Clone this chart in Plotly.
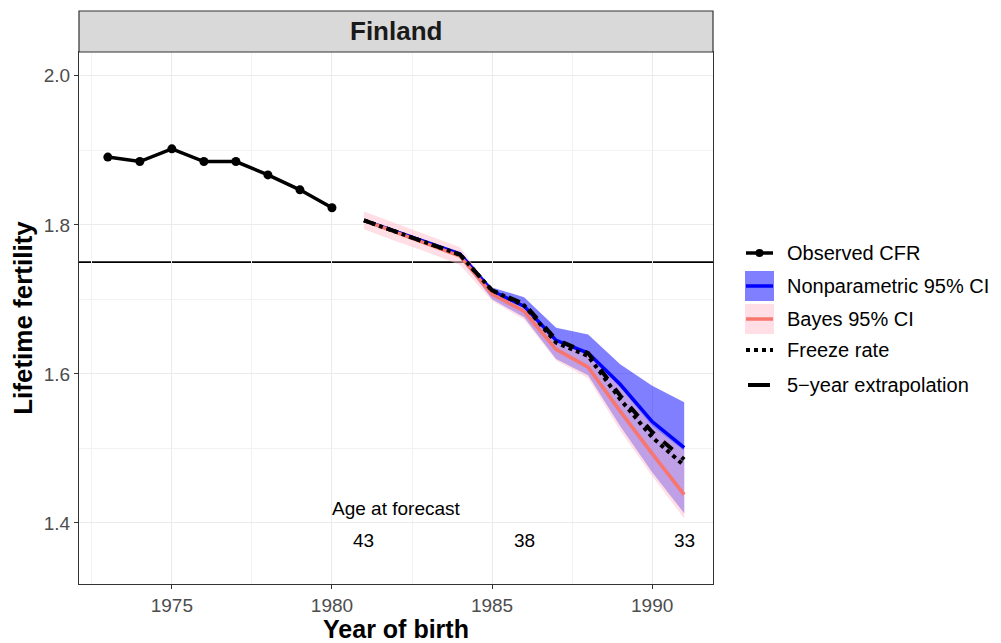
import plotly.graph_objects as go

# ---------------- data ----------------
obs_years = [1973, 1974, 1975, 1976, 1977, 1978, 1979, 1980]
obs_cfr = [1.891, 1.885, 1.902, 1.885, 1.885, 1.867, 1.847, 1.823]

fc_years = [1981, 1982, 1983, 1984, 1985, 1986, 1987, 1988, 1989, 1990, 1991]
np_mid = [1.806, 1.791, 1.776, 1.761, 1.711, 1.691, 1.645, 1.628, 1.586, 1.536, 1.501]
np_upper = [1.808, 1.793, 1.778, 1.764, 1.716, 1.703, 1.662, 1.653, 1.613, 1.584, 1.562]
np_lower = [1.804, 1.789, 1.774, 1.757, 1.700, 1.676, 1.620, 1.598, 1.530, 1.468, 1.413]
bayes_mid = [1.806, 1.790, 1.775, 1.758, 1.707, 1.684, 1.633, 1.609, 1.550, 1.493, 1.438]
bayes_upper = [1.818, 1.802, 1.787, 1.770, 1.712, 1.694, 1.645, 1.626, 1.582, 1.530, 1.497]
bayes_lower = [1.794, 1.778, 1.763, 1.746, 1.698, 1.673, 1.618, 1.594, 1.524, 1.463, 1.406]
freeze = [1.806, 1.791, 1.776, 1.760, 1.712, 1.692, 1.642, 1.624, 1.566, 1.515, 1.477]
extrap5 = [1.806, 1.791, 1.776, 1.760, 1.712, 1.694, 1.646, 1.628, 1.571, 1.522, 1.485]

ref_level = 1.75
age_years = [1981, 1986, 1991]
age_labels = ["43", "38", "33"]
age_label_y = 1.377
age_title = "Age at forecast"
age_title_x = 1982
age_title_y = 1.419

x_ticks = [1975, 1980, 1985, 1990]
y_ticks = [1.4, 1.6, 1.8, 2.0]
y_tick_text = ["1.4", "1.6", "1.8", "2.0"]

legend_labels = ["Observed CFR", "Nonparametric 95% CI", "Bayes 95% CI",
                 "Freeze rate", "5\u2212year extrapolation"]

# ---------------- style / layout ----------------
OFF = 8                      # page body margin of the browser
W, H = 1001 - OFF, 643 - OFF
P_L, P_R, P_T, P_B = 79, 713, 52, 584          # panel edges in page pixels
L, R, T, B = P_L - OFF, W - (P_R - OFF), P_T - OFF, H - (P_B - OFF)
FONT = "Liberation Sans, Arial, sans-serif"
BLUE_FILL = "rgba(0,0,255,0.5)"
PINK_FILL = "rgba(255,192,203,0.5)"
BLUE = "#0000ff"
SALMON = "#f8766d"


def px2x(px):
    return (px - P_L) / (P_R - P_L)


def py2y(py):
    return (P_B - py) / (P_B - P_T)


fig = go.Figure()

# ribbons
fig.add_trace(go.Scatter(x=fc_years + fc_years[::-1], y=np_upper + np_lower[::-1],
                         fill="toself", fillcolor=BLUE_FILL, line=dict(width=0),
                         mode="lines", hoverinfo="skip", showlegend=False))
fig.add_trace(go.Scatter(x=fc_years + fc_years[::-1], y=bayes_upper + bayes_lower[::-1],
                         fill="toself", fillcolor=PINK_FILL, line=dict(width=0),
                         mode="lines", hoverinfo="skip", showlegend=False))
# central lines
fig.add_trace(go.Scatter(x=fc_years, y=np_mid, mode="lines",
                         line=dict(color=BLUE, width=3.5), showlegend=False))
fig.add_trace(go.Scatter(x=fc_years, y=bayes_mid, mode="lines",
                         line=dict(color=SALMON, width=3.5), showlegend=False))
fig.add_trace(go.Scatter(x=fc_years, y=freeze, mode="lines",
                         line=dict(color="black", width=4, dash="dot"), showlegend=False))
fig.add_trace(go.Scatter(x=fc_years, y=extrap5, mode="lines",
                         line=dict(color="black", width=4, dash="dash"), showlegend=False))
fig.add_trace(go.Scatter(x=obs_years, y=obs_cfr, mode="lines+markers",
                         line=dict(color="black", width=3.5),
                         marker=dict(color="black", size=9), showlegend=False))

fig.add_hline(y=ref_level, line=dict(color="black", width=1.8), layer="below")

# age annotations
fig.add_annotation(x=age_title_x, y=age_title_y, text=age_title, showarrow=False,
                   font=dict(family=FONT, size=19, color="black"))
for xa, lab in zip(age_years, age_labels):
    fig.add_annotation(x=xa, y=age_label_y, text=lab, showarrow=False,
                       font=dict(family=FONT, size=19, color="black"))

# facet strip
fig.add_shape(type="rect", xref="paper", yref="paper", x0=0, x1=1,
              y0=1, y1=py2y(11), fillcolor="#d9d9d9",
              line=dict(color="#333333", width=1.2), layer="above")
fig.add_annotation(xref="paper", yref="paper", x=0.5, y=py2y(31), text="<b>Finland</b>",
                   showarrow=False, yanchor="middle",
                   font=dict(family=FONT, size=26, color="#1a1a1a"))

# manual legend
kx0, kx1 = px2x(745), px2x(774)
leg_y = [253, 286, 319, 350, 385]
fig.add_shape(type="line", xref="paper", yref="paper", x0=px2x(746), x1=px2x(773),
              y0=py2y(leg_y[0]), y1=py2y(leg_y[0]), line=dict(color="black", width=3.5))
fig.add_shape(type="circle", xref="paper", yref="paper", x0=px2x(755.5), x1=px2x(763.5),
              y0=py2y(leg_y[0] + 4), y1=py2y(leg_y[0] - 4), fillcolor="black",
              line=dict(color="black", width=0))
fig.add_shape(type="rect", xref="paper", yref="paper", x0=kx0, x1=kx1,
              y0=py2y(leg_y[1] + 15), y1=py2y(leg_y[1] - 15), fillcolor=BLUE_FILL,
              line=dict(width=0))
fig.add_shape(type="line", xref="paper", yref="paper", x0=px2x(746), x1=px2x(773),
              y0=py2y(leg_y[1]), y1=py2y(leg_y[1]), line=dict(color=BLUE, width=3.5))
fig.add_shape(type="rect", xref="paper", yref="paper", x0=kx0, x1=kx1,
              y0=py2y(leg_y[2] + 15), y1=py2y(leg_y[2] - 15), fillcolor=PINK_FILL,
              line=dict(width=0))
fig.add_shape(type="line", xref="paper", yref="paper", x0=px2x(746), x1=px2x(773),
              y0=py2y(leg_y[2]), y1=py2y(leg_y[2]), line=dict(color=SALMON, width=3.5))
fig.add_shape(type="line", xref="paper", yref="paper", x0=px2x(746), x1=px2x(773),
              y0=py2y(leg_y[3]), y1=py2y(leg_y[3]),
              line=dict(color="black", width=4, dash="dot"))
fig.add_shape(type="line", xref="paper", yref="paper", x0=px2x(748), x1=px2x(770),
              y0=py2y(leg_y[4]), y1=py2y(leg_y[4]), line=dict(color="black", width=4))
for yy, lab in zip(leg_y, legend_labels):
    fig.add_annotation(xref="paper", yref="paper", x=px2x(785), y=py2y(yy), text=lab,
                       showarrow=False, xanchor="left", yanchor="middle",
                       font=dict(family=FONT, size=20, color="black"))

axis_common = dict(
    showline=True, mirror=True, linecolor="#333333", linewidth=1.2,
    ticks="outside", ticklen=4, tickcolor="#333333", tickwidth=1.2,
    showgrid=True, gridcolor="#ebebeb", gridwidth=1.4, zeroline=False,
    tickfont=dict(family=FONT, size=19, color="#4d4d4d"),
)

fig.update_xaxes(range=[1972.1, 1991.9], tickvals=x_ticks,
                 minor=dict(dtick=2.5, tick0=1972.5, showgrid=True, gridcolor="#f2f2f2",
                            gridwidth=0.8, ticks=""),
                 title=dict(text="<b>Year of birth</b>", standoff=0,
                            font=dict(family=FONT, size=25, color="black")),
                 **axis_common)
fig.update_yaxes(range=[1.318, 2.032], tickvals=y_ticks, ticktext=y_tick_text,
                 minor=dict(dtick=0.1, tick0=1.3, showgrid=True, gridcolor="#f2f2f2",
                            gridwidth=0.8, ticks=""),
                 title=dict(text="<b>Lifetime fertility</b>", standoff=3,
                            font=dict(family=FONT, size=26, color="black")),
                 **axis_common)

fig.update_layout(width=W, height=H, margin=dict(l=L, r=R, t=T, b=B, autoexpand=False),
                  paper_bgcolor="white", plot_bgcolor="white", showlegend=False,
                  font=dict(family=FONT))

fig.write_html("out.html")
